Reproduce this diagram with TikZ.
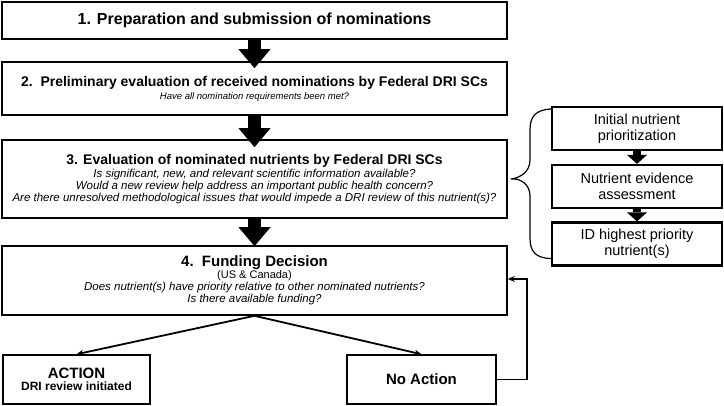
\documentclass[tikz,border=0pt]{standalone}
\usepackage{fontspec}
\setmainfont{Liberation Sans}
\usepackage{tikz}
\usetikzlibrary{positioning,arrows.meta}
\newcommand{\headfont}{\fontsize{14}{15}\selectfont\bfseries}
\newcommand{\askfont}{\fontsize{11.5}{12.5}\selectfont\itshape}
\tikzset{stepbox/.style={draw, line width=1.6pt, minimum width=505pt, inner sep=0pt, align=center},
sidebox/.style={draw, line width=2.2pt, minimum width=170pt, minimum height=43pt, inner sep=0pt, align=center, font=\fontsize{14.5}{16}\selectfont},
endbox/.style={draw, line width=1.5pt, minimum height=49pt, inner sep=0pt, align=center},
bigarrow/.style={line width=13pt, -{Triangle[width=32pt, length=19pt, line width=0pt]}},
smallarrow/.style={line width=8pt, -{Triangle[width=20pt, length=9pt, line width=0pt]}},
thinarrow/.style={line width=1.8pt, -{Stealth[length=7pt, width=6pt]}},}

\begin{document}
\begin{tikzpicture}[x=1pt, y=1pt]
\useasboundingbox (0,0) rectangle (724,-406);
\node [stepbox, minimum height=37pt] (prep) at (254.5,-20.5) {\fontsize{16}{17}\selectfont\bfseries 1. Preparation and submission of nominations};
\node [stepbox, minimum height=53pt] (prelim) at (254.5,-88.5) {\headfont 2.\ \ Preliminary evaluation of received nominations by Federal DRI SCs\\[1pt] \fontsize{9.5}{12}\selectfont\itshape Have all nomination requirements been met?};
\node [stepbox, minimum height=78pt] (evalnut) at (254.5,-179) {\headfont 3. Evaluation of nominated nutrients by Federal DRI SCs\\[1pt] \askfont Is significant, new, and relevant scientific information available?\\ \askfont Would a new review help address an important public health concern?\\ \askfont Are there unresolved methodological issues that would impede a DRI review of this nutrient(s)?};
\node [stepbox, minimum height=69pt] (funding) at (254.5,-280.5) {\fontsize{15}{16}\selectfont\bfseries 4.\ \ Funding Decision\\ \fontsize{11}{12.5}\selectfont (US \& Canada)\\ \askfont Does nutrient(s) have priority relative to other nominated nutrients?\\ \askfont Is there available funding?};
\node [endbox, minimum width=147pt] (action) at (76.5,-379.5) {\fontsize{15}{17}\selectfont\bfseries ACTION\\ \fontsize{12}{13}\selectfont\bfseries DRI review initiated};
\node [endbox, minimum width=149pt] (noaction) at (421.5,-379.5) {\fontsize{15}{17}\selectfont\bfseries No Action};
\node [sidebox] (initprio) at (637,-128.5) {Initial nutrient\\prioritization};
\node [sidebox] (evidence) at (637,-186.5) {Nutrient evidence\\assessment};
\node [sidebox] (highprio) at (637,-244) {ID highest priority\\nutrient(s)};
\coordinate (bracetip) at ([xshift=3pt]evalnut.east);
\coordinate (loopcorner) at (527,-279);
\draw[bigarrow] (prep.south) -- ([yshift=-7pt]prelim.north);
\draw[bigarrow] (prelim.south) -- ([yshift=-8pt]evalnut.north);
\draw[bigarrow] (evalnut.south) -- ([yshift=-1pt]funding.north);
\draw[smallarrow] (initprio.south) -- (evidence.north);
\draw[smallarrow] (evidence.south) -- (highprio.north);
\draw[thinarrow] (funding.south) -- (action.north);
\draw[thinarrow] (funding.south) -- (noaction.north);
\draw[thinarrow] (noaction.east) -| (loopcorner) -- (loopcorner -| funding.east);
\draw[line width=1.2pt] ([yshift=-3pt]initprio.north west) .. controls (536,-110) and (530,-116) .. (530,-130) -- (530,-160) .. controls (530,-172) and (520,-178) .. (bracetip) .. controls (520,-178) and (530,-184) .. (530,-196) -- (530,-238) .. controls (530,-252) and (536,-258) .. ([yshift=8pt]highprio.south west);
\end{tikzpicture}
\end{document}
